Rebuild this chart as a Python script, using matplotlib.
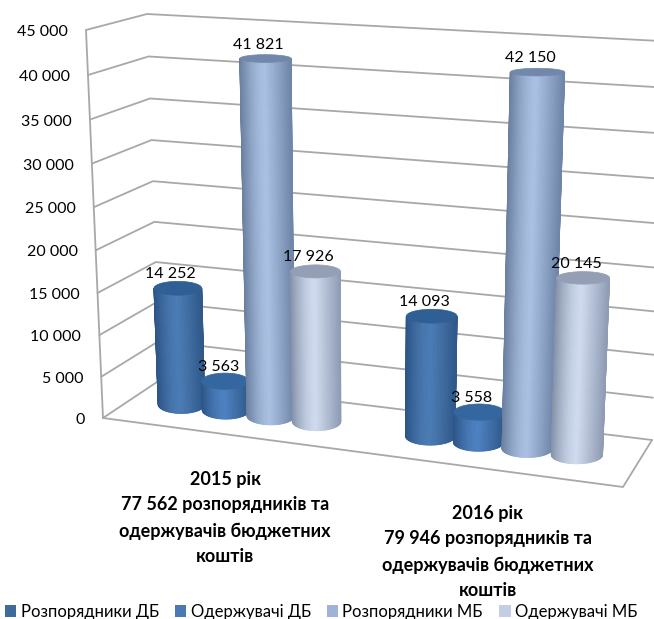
import numpy as np
import matplotlib
matplotlib.use("Agg")
import matplotlib.pyplot as plt
from matplotlib.collections import PolyCollection
from matplotlib.patches import Polygon, Patch

plt.rcParams['font.family'] = ['Lato', 'Open Sans', 'DejaVu Sans']

# ---- data ----
series_names = ["Розпорядники ДБ", "Одержувачі ДБ", "Розпорядники МБ", "Одержувачі МБ"]
values_2015 = [14252, 3563, 41821, 17926]
values_2016 = [14093, 3558, 42150, 20145]
group_labels = ["2015 рік\n77 562 розпорядників та\nодержувачів бюджетних\nкоштів",
                "2016 рік\n79 946 розпорядників та\nодержувачів бюджетних\nкоштів"]
y_ticks = [0, 5000, 10000, 15000, 20000, 25000, 30000, 35000, 40000, 45000]
edge_left = ["#30598a", "#30598a", "#6f86aa", "#8f9cb4"]
mid_col = ["#4a7bb4", "#4c80c0", "#a9c0e2", "#cfdaee"]
edge_right = ["#2c5486", "#2c5486", "#6a7f9f", "#8492a8"]
top_col = ["#2f5f94", "#34679f", "#7188aa", "#949fb5"]
legend_col = ["#3f6a9a", "#4a7ab5", "#a0b3d6", "#c3cde3"]

W, H = 654, 619
Y_MAX = 45000.0

fig = plt.figure(figsize=(W / 100, H / 100), dpi=100)
ax = fig.add_axes([0, 0, 1, 1])
ax.set_xlim(0, W)
ax.set_ylim(H, 0)
ax.axis("off")

# pseudo-3D box: (u, depth, level) corners in picture coordinates
BOX = {
    (0, 0, 0): (103, 418), (0, 0, 1): (86, 30),
    (0, 1, 0): (160, 380), (0, 1, 1): (147, 14),
    (1, 0, 0): (623, 487), (1, 0, 1): (652, 64),
    (1, 1, 0): (652, 440), (1, 1, 1): (660, 41),
}


def proj(u, d, val):
    f = val / Y_MAX
    f = f * (0.95 + 0.05 * f)
    x = y = 0.0
    for (a, b, c), (px, py) in BOX.items():
        w = (u if a else 1 - u) * (d if b else 1 - d) * (f if c else 1 - f)
        x += w * px
        y += w * py
    return x, y


def across(p):
    # slight perspective growth of the category scale towards the right
    return p * (0.92 + 0.08 * p)


grid = dict(color="#a8a8a8", lw=1.3, zorder=1, solid_capstyle="round")
for v in y_ticks:
    p0 = proj(0, 0, v)
    p1 = proj(0, 1, v)
    p2 = proj(1, 1, v)
    ax.plot([p0[0], p1[0], p2[0]], [p0[1], p1[1], p2[1]], **grid)
    ax.text(p0[0] - 18, p0[1] + 2, f"{v:,}".replace(",", " "), ha="right", va="center",
            fontsize=11.5, color="black")

# axis edge and floor outline
ln = [proj(0, 0, 0), proj(0, 0, Y_MAX)]
ax.plot(*zip(*ln), **grid)
ln = [proj(0, 0, 0), proj(1, 0, 0), proj(1, 1, 0)]
ax.plot(*zip(*ln), **grid)


def hex_rgb(h):
    return np.array(matplotlib.colors.to_rgb(h))


def cylinder(u, d, val, idx, z):
    f = val / Y_MAX
    bx, by = proj(u, d, 0)
    tx, ty = proj(u, d, val)
    rx_b = 23 + 3 * u
    rx_t = rx_b + 2 * f
    ry_b = 9.0
    ry_t = 8.5 - 5 * f
    th = np.linspace(np.pi, 0, 61)
    xb = bx + rx_b * np.cos(th)
    yb = by + ry_b * np.sin(th)
    xt = tx + rx_t * np.cos(th)
    yt = ty + ry_t * np.sin(th)
    polys, cols = [], []
    cl, cm, cr = hex_rgb(edge_left[idx]), hex_rgb(mid_col[idx]), hex_rgb(edge_right[idx])
    for i in range(len(th) - 1):
        polys.append([(xb[i], yb[i]), (xb[i + 1], yb[i + 1]), (xt[i + 1], yt[i + 1]), (xt[i], yt[i])])
        t = (1 - np.cos((th[i] + th[i + 1]) / 2)) / 2
        cols.append(cl + (cm - cl) * t / 0.5 if t < 0.5 else cm + (cr - cm) * ((t - 0.5) / 0.5) ** 1.6)
    ax.add_collection(PolyCollection(polys, facecolors=cols, edgecolors=cols, linewidths=0.6, zorder=z))
    a = np.linspace(0, 2 * np.pi, 80)
    ax.add_patch(Polygon(np.column_stack([tx + rx_t * np.cos(a), ty + ry_t * np.sin(a)]),
                         closed=True, fc=top_col[idx], ec=top_col[idx], lw=0.5, zorder=z + 0.5))
    return tx, ty


labels = []
z = 3
for g, vals in enumerate([values_2015, values_2016]):
    for i, v in enumerate(vals):
        u = across(0.504 * g + 0.104 + 0.093 * i)
        tx, ty = cylinder(u, 0.52, v, i, z)
        labels.append((tx - 7, ty - 14, v))
        z += 1

for lx, ly, v in labels:
    ax.text(lx, ly, f"{v:,}".replace(",", " "), ha="center", va="center",
            fontsize=11.5, color="black", zorder=50)

ax.text(225, 518, group_labels[0], ha="center", va="center", fontsize=13,
        fontweight="bold", linespacing=1.62, color="black")
ax.text(488, 552, group_labels[1], ha="center", va="center", fontsize=13,
        fontweight="bold", linespacing=1.62, color="black")

handles = [Patch(facecolor=c, edgecolor="none") for c in legend_col]
ax.legend(handles, series_names, loc="center", bbox_to_anchor=(321 / W, 1 - 612 / H), ncol=4,
          frameon=False, fontsize=12, handlelength=0.7, handleheight=0.75,
          handletextpad=0.25, columnspacing=0.95, borderpad=0, borderaxespad=0,
          labelcolor="black")

fig.savefig("out.png", dpi=100, facecolor="white")
